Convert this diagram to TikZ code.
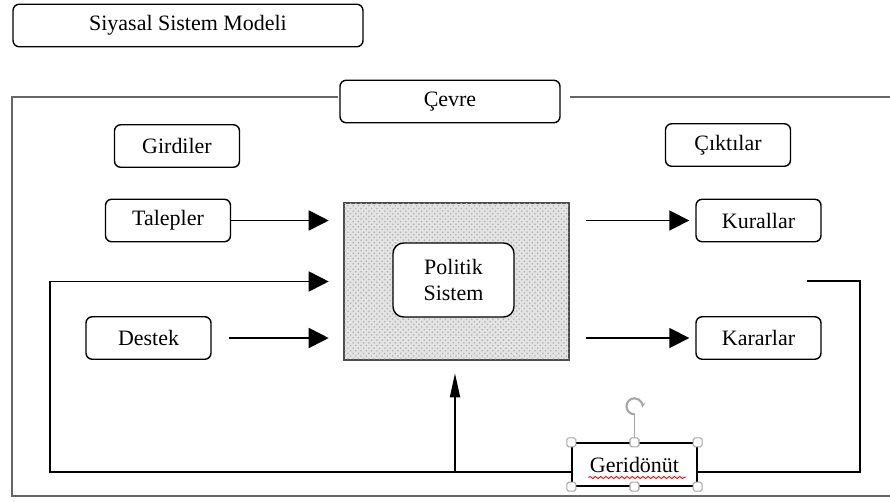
\documentclass[tikz,border=0pt]{standalone}
\usepackage{fontspec}
\setmainfont{Liberation Serif}
\usetikzlibrary{arrows.meta,positioning,patterns,calc,decorations.pathmorphing}

\begin{document}
\begin{tikzpicture}[
    x=0.02cm, y=-0.02cm,
    b/.style={draw, rounded corners=3.5pt, line width=0.8pt, fill=white, minimum width=2.5cm, minimum height=0.85cm, inner sep=2pt, font=\fontsize{12.5}{15}\selectfont},
    arr/.style={line width=1pt, -{Triangle[length=0.4cm,width=0.4cm]}},
    arrup/.style={line width=1pt, -{Triangle[length=0.48cm,width=0.2cm]}},
    frame/.style={draw=black!60, line width=1.4pt},
    handle/.style={draw=gray!70, fill=white, rounded corners=1pt, minimum size=0.18cm, inner sep=0pt, line width=0.6pt}
]
    \useasboundingbox (0,0) rectangle (890,501);

    % title and environment frame
    \node[b, minimum width=7cm] (title) at (188,25.5) {Siyasal Sistem Modeli};
    \draw[frame] (338,97) -- (12,97) -- (12,496) -- (890,496);
    \draw[frame] (570,97) -- (890,97);
    \node[b, minimum width=4.4cm] (cevre) at (450,101.5) {Çevre};

    \node[b] (girdi) at (177,146) {Girdiler};
    \node[b] (cikti) at (728,145) {Çıktılar};

    % political system
    \node[draw=black!70, line width=1.5pt, fill=gray!22, postaction={pattern=crosshatch dots, pattern color=gray!60},
          minimum width=4.5cm, minimum height=3.14cm] (sys) at (456.5,281.5) {};
    \node[b, align=center, minimum width=2.42cm, minimum height=1.48cm, rounded corners=6pt] (pol) at (453.5,280) {Politik\\Sistem};

    % inputs and outputs
    \node[b] (tal) at (168,220.5) {Talepler};
    \node[b] (destek) at (148.5,338) {Destek};
    \node[b] (kur) at (758.5,220.5) {Kurallar};
    \node[b] (kar) at (758.5,338) {Kararlar};

    \draw[arr, shorten >=0.28cm] (tal.east) -- (tal -| sys.west);
    \draw[arr, shorten <=0.34cm, shorten >=0.28cm] (destek.east) -- (destek -| sys.west);
    \draw[arr, shorten <=0.32cm, shorten >=0.12cm] (kur -| sys.east) -- (kur.west);
    \draw[arr, shorten <=0.32cm, shorten >=0.12cm] (kar -| sys.east) -- (kar.west);

    % feedback loop
    \coordinate (fbR) at (807,281);
    \coordinate (fbB) at (455,472);
    \draw[arr, shorten >=0.28cm] (fbR) -- (860,281) -- (860,472) -- (50,472) |- (sys.west);
    \draw[arrup, shorten >=0.24cm] (fbB) -- (fbB |- sys.south);

    \node[draw, line width=0.8pt, fill=white, minimum width=2.5cm, minimum height=0.86cm, inner sep=0pt,
          font=\fontsize{12.5}{15}\selectfont] (geri) at (634.5,464.5) {Geridönüt};
    \draw[red, line width=0.5pt, decorate, decoration={snake, amplitude=0.6pt, segment length=3pt}]
        ($(geri.center)+(-46,13)$) -- ($(geri.center)+(51,13)$);
    \draw[gray!70, line width=0.6pt] (geri.north) -- ++(0,-28) coordinate (rot);
    \draw[gray!70, line width=1.2pt, -{Stealth[length=3pt]}] ($(rot)+(0,-8)+(90:8)$) arc[start angle=90, end angle=370, radius=8];
    \foreach \a in {north west, north, north east, south west, south, south east}
        \node[handle] at (geri.\a) {};
\end{tikzpicture}
\end{document}
